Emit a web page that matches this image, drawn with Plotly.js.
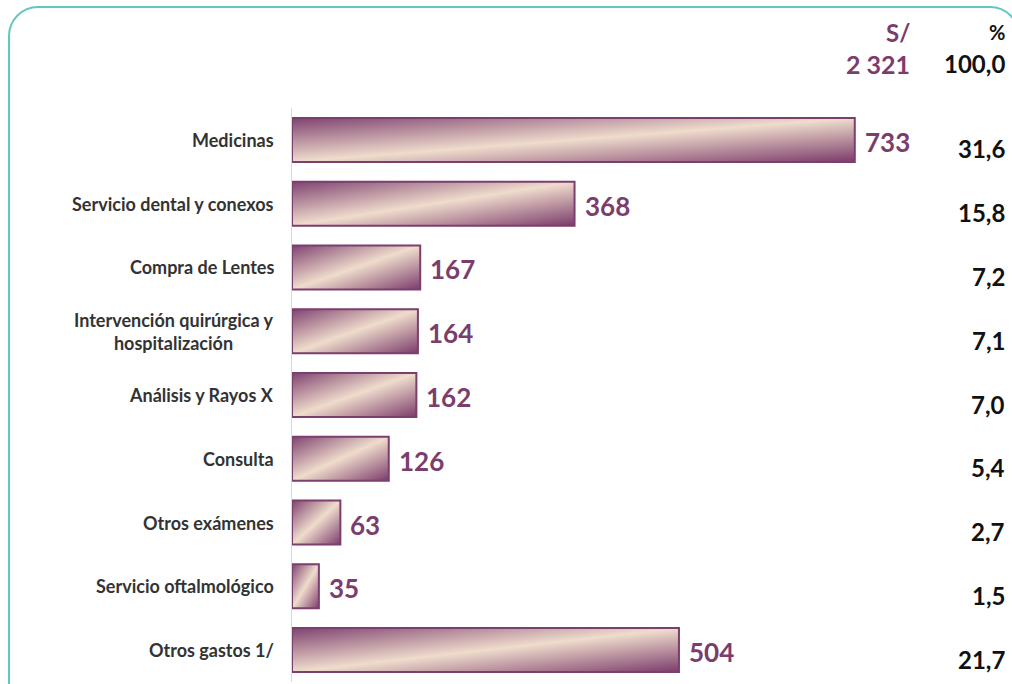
<!DOCTYPE html>
<html>
<head>
<meta charset="utf-8">
<script src="https://cdn.plot.ly/plotly-3.0.1.min.js"></script>
<style>
  html, body { margin: 0; padding: 0; background: #ffffff; overflow: hidden; }
  #wrap { position: relative; width: 1012px; height: 684px; overflow: hidden; }
  #frame { position: absolute; left: 8px; top: 6px; width: 1012px; height: 720px;
           border: 2px solid #5fc9c1; border-radius: 30px; box-sizing: border-box; pointer-events: none; }
  #chart { position: absolute; left: 0; top: 0; width: 1012px; height: 684px; }
</style>
</head>
<body>
<div id="wrap">
  <div id="chart"></div>
  <div id="frame"></div>
</div>
<script>
// ---- data ----
var categories = [
  "Medicinas",
  "Servicio dental y conexos",
  "Compra de Lentes",
  "Intervención quirúrgica y<br>hospitalización",
  "Análisis y Rayos X",
  "Consulta",
  "Otros exámenes",
  "Servicio oftalmológico",
  "Otros gastos 1/"
];
var amounts = [733, 368, 167, 164, 162, 126, 63, 35, 504];
var amountLabels = ["733", "368", "167", "164", "162", "126", "63", "35", "504"];
var percentLabels = ["31,6", "15,8", "7,2", "7,1", "7,0", "5,4", "2,7", "1,5", "21,7"];
var totalAmountLabel = "2 321";
var totalPercentLabel = "100,0";
var headerAmount = "S/";
var headerPercent = "%";

// ---- styles ----
var purple = "#7b3d6c";
var dark = "#333333";
var fontFam = "Lato, 'Open Sans', sans-serif";

var trace = {
  type: "bar",
  orientation: "h",
  x: amounts,
  y: categories,
  width: 0.69,
  marker: { color: "#c9a3b0", line: { color: "#7b3f6e", width: 2 } },
  hoverinfo: "skip"
};

var annotations = [];
categories.forEach(function (c, i) {
  annotations.push({
    xref: "paper", yref: "y", x: 0, y: c, xanchor: "right", yanchor: "middle",
    xshift: -16, text: c, showarrow: false, align: "center",
    font: { family: fontFam, size: 18, color: dark, weight: 700 }
  });
  annotations.push({
    xref: "x", yref: "y", x: amounts[i], y: c, xanchor: "left", yanchor: "middle",
    xshift: 8, yshift: -2, text: "<b>" + amountLabels[i] + "</b>", showarrow: false,
    font: { family: fontFam, size: 26, color: purple, weight: 700 }
  });
  annotations.push({
    xref: "paper", yref: "y", x: 1.0347, y: c, xanchor: "right", yanchor: "middle",
    yshift: -9, text: "<b>" + percentLabels[i] + "</b>", showarrow: false,
    font: { family: fontFam, size: 24, color: "#111111", weight: 700 }
  });
});
// header
annotations.push({ xref: "paper", yref: "paper", x: 0.8973, y: 1.1324, xanchor: "right", yanchor: "middle",
  text: "<b>" + headerAmount + "</b>", showarrow: false, font: { family: fontFam, size: 24, color: purple, weight: 700 } });
annotations.push({ xref: "paper", yref: "paper", x: 0.8973, y: 1.0767, xanchor: "right", yanchor: "middle",
  text: "<b>" + totalAmountLabel + "</b>", showarrow: false, font: { family: fontFam, size: 25, color: purple, weight: 700 } });
annotations.push({ xref: "paper", yref: "paper", x: 1.0347, y: 1.1324, xanchor: "right", yanchor: "middle",
  text: "<b>" + headerPercent + "</b>", showarrow: false, font: { family: fontFam, size: 20, color: "#111111", weight: 700 } });
annotations.push({ xref: "paper", yref: "paper", x: 1.0347, y: 1.0767, xanchor: "right", yanchor: "middle",
  text: "<b>" + totalPercentLabel + "</b>", showarrow: false, font: { family: fontFam, size: 24, color: "#111111", weight: 700 } });

var layout = {
  width: 1012, height: 684,
  margin: { l: 292, r: 29, t: 108, b: 2, pad: 0 },
  paper_bgcolor: "rgba(0,0,0,0)",
  plot_bgcolor: "rgba(0,0,0,0)",
  showlegend: false,
  xaxis: { range: [0, 900], showgrid: false, zeroline: false, showline: false,
           showticklabels: false, ticks: "", fixedrange: true },
  yaxis: { type: "category", autorange: "reversed", showgrid: false, zeroline: false,
           showline: true, linecolor: "#d9d9d9", linewidth: 1, showticklabels: false, ticks: "",
           fixedrange: true },
  annotations: annotations,
  font: { family: fontFam }
};

var gd = document.getElementById("chart");
Plotly.newPlot(gd, [trace], layout, { displayModeBar: false, staticPlot: true }).then(function () {
  var ns = "http://www.w3.org/2000/svg";
  var svg = gd.querySelector("svg.main-svg");
  var defs = svg.querySelector("defs") || svg.insertBefore(document.createElementNS(ns, "defs"), svg.firstChild);
  var lg = document.createElementNS(ns, "linearGradient");
  lg.setAttribute("id", "barGrad");
  lg.setAttribute("x1", "0"); lg.setAttribute("y1", "0");
  lg.setAttribute("x2", "1"); lg.setAttribute("y2", "1");
  [["0", "#7f4270"], ["0.5", "#efdccc"], ["1", "#7b3b6b"]].forEach(function (s) {
    var st = document.createElementNS(ns, "stop");
    st.setAttribute("offset", s[0]);
    st.setAttribute("stop-color", s[1]);
    lg.appendChild(st);
  });
  defs.appendChild(lg);
  gd.querySelectorAll(".bars .point path").forEach(function (p) {
    p.style.fill = "url(#barGrad)";
  });
});
</script>
</body>
</html>
